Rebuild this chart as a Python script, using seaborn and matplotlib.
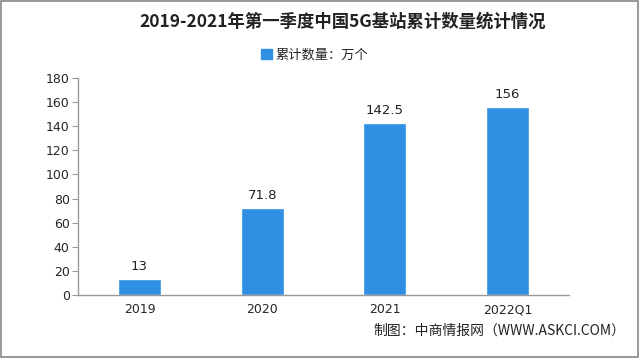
import matplotlib
matplotlib.use("Agg")
import matplotlib.pyplot as plt
import seaborn as sns
import pandas as pd
from matplotlib.patches import Rectangle, Patch

categories = ["2019", "2020", "2021", "2022Q1"]
values = [13, 71.8, 142.5, 156]
value_labels = ["13", "71.8", "142.5", "156"]
yticks = [0, 20, 40, 60, 80, 100, 120, 140, 160, 180]

sns.set_style("white")
plt.rcParams['font.family'] = ['Noto Sans CJK SC', 'DejaVu Sans']

df = pd.DataFrame({"cat": categories, "val": values})
color = "#2E8FE3"

fig = plt.figure(figsize=(6.4, 3.58), dpi=100)
ax = fig.add_axes([0.122, 0.176, 0.767, 0.606])
sns.barplot(data=df, x="cat", y="val", color=color, width=0.35, ax=ax, saturation=1)

ax.set_xlim(-0.5, len(categories) - 0.5)
ax.set_ylim(0, 180)
ax.set_yticks(yticks)
ax.set_yticklabels([str(t) for t in yticks], fontsize=9, family=['DejaVu Sans'])
ax.set_xlabel("")
ax.set_ylabel("")
ax.tick_params(axis='x', length=0, labelsize=9, pad=6)
ax.set_xticks([i - 0.5 for i in range(len(categories) + 1)], minor=True)
ax.tick_params(axis='x', which='minor', length=4, color="#999999", direction='out')
ax.tick_params(axis='y', length=4, color="#999999", direction='out', left=True, pad=2)
for lab in ax.get_xticklabels():
    lab.set_family(['DejaVu Sans'])

for s in ["top", "right"]:
    ax.spines[s].set_visible(False)
for s in ["left", "bottom"]:
    ax.spines[s].set_color("#999999")
    ax.spines[s].set_linewidth(1)

for i, (v, lab) in enumerate(zip(values, value_labels)):
    ax.text(i, v + 5, lab, ha="center", va="bottom", fontsize=9.5, color="#222222",
            family=['DejaVu Sans'])

fig.text(0.536, 0.94, "2019-2021年第一季度中国5G基站累计数量统计情况", ha="center", va="center",
         fontsize=12.5, fontweight="bold", color="#222222")
fig.legend(handles=[Patch(facecolor=color, edgecolor=color, label="累计数量：万个")],
           loc="center", bbox_to_anchor=(0.492, 0.845), frameon=False, fontsize=9.5,
           handlelength=0.8, handleheight=0.8, handletextpad=0.3)
fig.text(0.977, 0.075, "制图：中商情报网（WWW.ASKCI.COM）", ha="right", va="center",
         fontsize=10, color="#222222")

fig.patches.append(Rectangle((0.002, 0.003), 0.995, 0.994, transform=fig.transFigure,
                             fill=False, edgecolor="#888888", linewidth=1.2))

fig.savefig("out.png", dpi=100)
